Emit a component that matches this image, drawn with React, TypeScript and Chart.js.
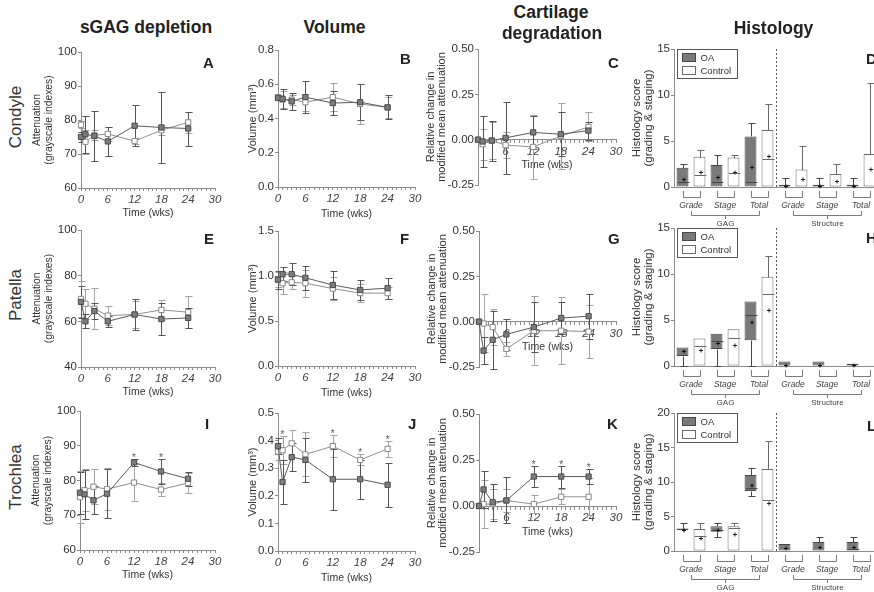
import React, { useEffect, useRef } from "react";
import { Chart, registerables } from "chart.js";

Chart.register(...registerables);

const FONT = "'Liberation Sans', Arial, Helvetica, sans-serif";
const AXIS = "#8c8c8c";
const TEXT = "#333333";
const OA_LINE = "#5a5a5a";
const OA_FILL = "#7d7d7d";
const OA_EDGE = "#4a4a4a";
const CTRL_LINE = "#8f8f8f";
const CTRL_EDGE = "#888888";
const OA_ERR = "#555555";
const CTRL_ERR = "#a3a3a3";
const OA_BAR = "#7a7a7a";
const OA_BAR_EDGE = "#474747";
const CTRL_BAR_EDGE = "#6a6a6a";

// ---------------- data ----------------
const weeks = [0, 1, 3, 6, 12, 18, 24];

// Condyle
const condyleSgagOA = [75.0, 75.8, 75.3, 73.7, 78.3, 77.8, 77.5];
const condyleSgagOASd = [1.5, 5.5, 7.3, 4.2, 6.0, 10.3, 5.0];
const condyleSgagCtrl = [78.6, 73.6, 75.5, 75.9, 73.8, 77.0, 79.3];
const condyleSgagCtrlSd = [1.0, 3.5, 1.5, 2.0, 1.0, 1.5, 3.2];

const condyleVolOA = [0.52, 0.515, 0.5, 0.525, 0.49, 0.495, 0.465];
const condyleVolOASd = [0.01, 0.06, 0.05, 0.095, 0.07, 0.105, 0.07];
const condyleVolCtrl = [0.525, 0.51, 0.51, 0.495, 0.525, 0.485, 0.465];
const condyleVolCtrlSd = [0.01, 0.05, 0.03, 0.05, 0.08, 0.115, 0.06];

const condyleDegOA = [0, -0.01, -0.005, 0.01, 0.04, 0.03, 0.05];
const condyleDegOASd = [0, 0.14, 0.11, 0.2, 0.09, 0.12, 0.05];
const condyleDegCtrl = [0, -0.025, -0.005, -0.03, -0.04, 0.02, 0.07];
const condyleDegCtrlSd = [0, 0.085, 0.1, 0.07, 0.175, 0.18, 0.08];

// Patella
const patellaSgagOA = [68.5, 60.0, 64.5, 60.0, 63.0, 61.0, 61.5];
const patellaSgagOASd = [7, 3, 3.5, 2.5, 7, 7, 4.5];
const patellaSgagCtrl = [69.8, 67.7, 65.5, 62.5, 63.0, 65.0, 64.0];
const patellaSgagCtrlSd = [8, 6.5, 9, 4, 6, 4.5, 7];

const patellaVolOA = [0.96, 1.02, 1.02, 0.98, 0.9, 0.845, 0.865];
const patellaVolOASd = [0.1, 0.08, 0.12, 0.13, 0.16, 0.11, 0.115];
const patellaVolCtrl = [0.96, 0.92, 0.93, 0.92, 0.86, 0.81, 0.81];
const patellaVolCtrlSd = [0.08, 0.12, 0.07, 0.15, 0.13, 0.1, 0.07];

const patellaDegOA = [0, -0.16, -0.1, -0.07, -0.03, 0.02, 0.03];
const patellaDegOASd = [0, 0.075, 0.16, 0.085, 0.14, 0.09, 0.125];
const patellaDegCtrl = [0, -0.01, -0.03, -0.15, -0.05, -0.05, -0.055];
const patellaDegCtrlSd = [0, 0.16, 0.1, 0.04, 0.19, 0.185, 0.145];

// Trochlea
const trochleaSgagOA = [76.5, 76.0, 74.3, 76.2, 85.2, 82.6, 80.5];
const trochleaSgagOASd = [6, 7, 4, 7, 1, 3.5, 2];
const trochleaSgagCtrl = [75.2, 77.2, 78.2, 77.5, 79.4, 77.4, 79.3];
const trochleaSgagCtrlSd = [7.5, 6, 5, 6, 5.3, 2, 3];
const trochleaSgagStars = [12, 18];

const trochleaVolOA = [0.38, 0.25, 0.34, 0.33, 0.26, 0.26, 0.24];
const trochleaVolOASd = [0.03, 0.08, 0.05, 0.08, 0.11, 0.07, 0.08];
const trochleaVolCtrl = [0.36, 0.365, 0.39, 0.35, 0.38, 0.33, 0.37];
const trochleaVolCtrlSd = [0.03, 0.05, 0.05, 0.08, 0.04, 0.02, 0.03];
const trochleaVolStars = [1, 12, 18, 24];

const trochleaDegOA = [0, 0.09, 0.02, 0.03, 0.16, 0.16, 0.16];
const trochleaDegOASd = [0, 0.1, 0.1, 0.125, 0.055, 0.06, 0.04];
const trochleaDegCtrl = [0, 0.01, 0.01, 0.03, 0.01, 0.05, 0.05];
const trochleaDegCtrlSd = [0, 0.13, 0.08, 0.06, 0.05, 0.04, 0.1];
const trochleaDegStars = [12, 18, 24];

// Histology: rows are [min, q1, median, q3, max, mean]
const histCategories = ["Grade", "Stage", "Total", "Grade", "Stage", "Total"];
const histGroups = ["GAG", "Structure"];

const condyleHistOA = [
  [0, 0, 0.5, 2.1, 2.5, 0.9],
  [0, 0, 0.5, 2.4, 3.5, 1.1],
  [0, 0, 0.55, 5.5, 7, 2.2],
  [0, 0, 0, 0.25, 1, 0.1],
  [0, 0, 0, 0.25, 1, 0.1],
  [0, 0, 0, 0.25, 1, 0.1],
];
const condyleHistCtrl = [
  [0, 0, 1.35, 3.3, 4, 1.6],
  [0, 0, 1.5, 3.2, 3.5, 1.6],
  [0, 0, 3, 6.2, 9, 3.4],
  [0, 0, 0, 1.9, 4.5, 0.9],
  [0, 0, 0, 1.4, 2.5, 0.6],
  [0, 0, 0, 3.6, 11.3, 2.0],
];
const patellaHistOA = [
  [0, 1.1, 1.1, 2, 2, 1.6],
  [0, 1.85, 2.75, 3.5, 3.5, 2.5],
  [0, 2.8, 5.5, 7, 7, 4.8],
  [0, 0, 0, 0.5, 0.5, 0.15],
  [0, 0, 0, 0.5, 0.5, 0.15],
  [0, 0, 0, 0.25, 0.25, 0.07],
];
const patellaHistCtrl = [
  [0, 0, 2.2, 3, 3, 1.75],
  [0, 0, 3, 4, 4, 2.3],
  [0, 0, 7.8, 9.7, 12, 6.1],
  [0, 0, 0, 0, 0, 0],
  [0, 0, 0, 0, 0, 0],
  [0, 0, 0, 0, 0, 0],
];
const trochleaHistOA = [
  [3, 3, 3, 3.25, 4, 3.1],
  [2, 2.8, 3, 3.6, 4, 3.1],
  [8, 8.7, 9.1, 11, 12, 9.6],
  [0, 0, 0, 1, 1, 0.4],
  [0, 0, 0, 1.3, 2, 0.6],
  [0, 0, 0.3, 1.3, 2, 0.6],
];
const trochleaHistCtrl = [
  [0, 0, 2.2, 3.2, 4, 1.9],
  [0, 0, 3.4, 3.6, 4, 2.4],
  [0, 0, 7.4, 11.9, 16, 6.9],
  [0, 0, 0, 0, 0, 0],
  [0, 0, 0, 0, 0, 0],
  [0, 0, 0, 0, 0, 0],
];

// ---------------- panel specs (layout) ----------------
type LineSpec = {
  area: number[];
  yMin: number; yMax: number; yStep: number; yDec: number;
  yW: number; yTitle: string | string[]; yTitleSize: number; yTitleLH: number;
  cross: boolean; xH: number;
  oa: number[]; oaSd: number[]; ctrl: number[]; ctrlSd: number[]; stars: number[];
};

const SGAG_TITLE = ["Attenuation", "(grayscale indexes)"];
const VOL_TITLE = "Volume (mm\u00b3)";
const DEG_TITLE = ["Relative change in", "modified mean attenuation"];

const sg = (area: number[], yMin: number, yStep: number, oa: number[], oaSd: number[], ctrl: number[], ctrlSd: number[], stars: number[]): LineSpec => ({
  area, yMin, yMax: 100, yStep, yDec: 0, yW: 52, yTitle: SGAG_TITLE, yTitleSize: 10.3, yTitleLH: 1.17,
  cross: false, xH: 31, oa, oaSd, ctrl, ctrlSd, stars,
});
const vo = (area: number[], yMax: number, yStep: number, oa: number[], oaSd: number[], ctrl: number[], ctrlSd: number[], stars: number[]): LineSpec => ({
  area, yMin: 0, yMax, yStep, yDec: 1, yW: 34, yTitle: VOL_TITLE, yTitleSize: 11, yTitleLH: 1.2,
  cross: false, xH: 33, oa, oaSd, ctrl, ctrlSd, stars,
});
const de = (area: number[], oa: number[], oaSd: number[], ctrl: number[], ctrlSd: number[], stars: number[]): LineSpec => ({
  area, yMin: -0.25, yMax: 0.5, yStep: 0.25, yDec: 2, yW: 55, yTitle: DEG_TITLE, yTitleSize: 11, yTitleLH: 1.05,
  cross: true, xH: 32, oa, oaSd, ctrl, ctrlSd, stars,
});

const linePanels: LineSpec[] = [
  sg([81, 52, 215, 188], 60, 10, condyleSgagOA, condyleSgagOASd, condyleSgagCtrl, condyleSgagCtrlSd, []),
  vo([278, 50, 415, 187], 0.8, 0.2, condyleVolOA, condyleVolOASd, condyleVolCtrl, condyleVolCtrlSd, []),
  de([478, 49, 616, 185], condyleDegOA, condyleDegOASd, condyleDegCtrl, condyleDegCtrlSd, []),
  sg([81, 230, 215, 367], 40, 20, patellaSgagOA, patellaSgagOASd, patellaSgagCtrl, patellaSgagCtrlSd, []),
  vo([278, 231, 415, 366], 1.5, 0.5, patellaVolOA, patellaVolOASd, patellaVolCtrl, patellaVolCtrlSd, []),
  de([479, 231, 616, 367], patellaDegOA, patellaDegOASd, patellaDegCtrl, patellaDegCtrlSd, []),
  sg([80, 411, 215, 550], 60, 10, trochleaSgagOA, trochleaSgagOASd, trochleaSgagCtrl, trochleaSgagCtrlSd, trochleaSgagStars),
  vo([278, 413, 415, 551], 0.5, 0.1, trochleaVolOA, trochleaVolOASd, trochleaVolCtrl, trochleaVolCtrlSd, trochleaVolStars),
  de([479, 414, 616, 552], trochleaDegOA, trochleaDegOASd, trochleaDegCtrl, trochleaDegCtrlSd, trochleaDegStars),
];

type HistSpec = { area: number[]; yMax: number; oa: number[][]; ctrl: number[][] };
const histPanels: HistSpec[] = [
  { area: [674, 49, 878, 187], yMax: 15, oa: condyleHistOA, ctrl: condyleHistCtrl },
  { area: [674, 228, 878, 366], yMax: 15, oa: patellaHistOA, ctrl: patellaHistCtrl },
  { area: [674, 413, 878, 551], yMax: 20, oa: trochleaHistOA, ctrl: trochleaHistCtrl },
];

const PAD_TOP = 10;
const PAD_RIGHT = 12;
const PAD_BOTTOM_CROSS = 8;
const H_YW = 45;
const H_XH = 42;
const H_PAD_RIGHT = 4;

function lineBox(s: LineSpec) {
  const [l, t, r, b] = s.area;
  return {
    left: l - s.yW,
    top: t - PAD_TOP,
    width: r - l + s.yW + PAD_RIGHT,
    height: b - t + PAD_TOP + (s.cross ? PAD_BOTTOM_CROSS : s.xH),
  };
}
function histBox(h: HistSpec) {
  const [l, t, r, b] = h.area;
  return { left: l - H_YW, top: t - PAD_TOP, width: r - l + H_YW + H_PAD_RIGHT, height: b - t + PAD_TOP + H_XH };
}

// ---------------- chart builders ----------------
function buildLine(canvas: HTMLCanvasElement, s: LineSpec) {
  const extras = {
    id: "errorBarsAndStars",
    beforeDatasetsDraw(chart: any) {
      const ctx = chart.ctx;
      const ys = chart.scales.y;
      const sets = [
        { vals: s.ctrl, sd: s.ctrlSd, di: 1, color: CTRL_ERR },
        { vals: s.oa, sd: s.oaSd, di: 0, color: OA_ERR },
      ];
      for (const st of sets) {
        const meta = chart.getDatasetMeta(st.di);
        ctx.save();
        ctx.strokeStyle = st.color;
        ctx.lineWidth = 1;
        meta.data.forEach((pt: any, i: number) => {
          const e = st.sd[i];
          if (!e) return;
          const x = Math.round(pt.x) + 0.5;
          const y1 = Math.round(ys.getPixelForValue(st.vals[i] + e)) + 0.5;
          const y2 = Math.round(ys.getPixelForValue(st.vals[i] - e)) + 0.5;
          ctx.beginPath();
          ctx.moveTo(x, y1);
          ctx.lineTo(x, y2);
          ctx.moveTo(x - 3, y1);
          ctx.lineTo(x + 4, y1);
          ctx.moveTo(x - 3, y2);
          ctx.lineTo(x + 4, y2);
          ctx.stroke();
        });
        ctx.restore();
      }
    },
    afterDatasetsDraw(chart: any) {
      if (!s.stars.length) return;
      const ctx = chart.ctx;
      const xs = chart.scales.x;
      const ys = chart.scales.y;
      ctx.save();
      ctx.fillStyle = "#555";
      ctx.font = `10px ${FONT}`;
      ctx.textAlign = "center";
      ctx.textBaseline = "alphabetic";
      for (const t of s.stars) {
        const i = weeks.indexOf(t);
        const top = Math.max(s.oa[i] + s.oaSd[i], s.ctrl[i] + s.ctrlSd[i]);
        ctx.fillText("*", xs.getPixelForValue(t), ys.getPixelForValue(top) + 2);
      }
      ctx.restore();
    },
  };

  const cfg: any = {
    type: "line",
    data: {
      datasets: [
        {
          label: "OA",
          data: weeks.map((w, i) => ({ x: w, y: s.oa[i] })),
          borderColor: OA_LINE,
          borderWidth: 1,
          pointStyle: "rect",
          pointRadius: 3.7,
          pointBackgroundColor: OA_FILL,
          pointBorderColor: OA_EDGE,
          pointBorderWidth: 1,
          tension: 0,
          clip: false,
        },
        {
          label: "Control",
          data: weeks.map((w, i) => ({ x: w, y: s.ctrl[i] })),
          borderColor: CTRL_LINE,
          borderWidth: 1,
          pointStyle: "rect",
          pointRadius: 3.7,
          pointBackgroundColor: "#ffffff",
          pointBorderColor: CTRL_EDGE,
          pointBorderWidth: 1,
          tension: 0,
          clip: false,
        },
      ],
    },
    options: {
      responsive: false,
      animation: false,
      events: [],
      layout: { padding: { top: PAD_TOP, right: PAD_RIGHT, left: 0, bottom: s.cross ? PAD_BOTTOM_CROSS : 0 } },
      plugins: { legend: { display: false }, tooltip: { enabled: false } },
      scales: {
        x: {
          type: "linear",
          min: 0,
          max: 30,
          position: s.cross ? { y: 0 } : "bottom",
          afterFit: (sc: any) => { sc.height = s.xH; },
          grid: { display: true, drawOnChartArea: false, drawTicks: true, tickLength: 3, color: AXIS, tickColor: AXIS },
          border: { display: true, color: AXIS, width: 1 },
          ticks: {
            stepSize: 1,
            autoSkip: false,
            maxRotation: 0,
            minRotation: 0,
            padding: 2,
            color: "#444",
            font: { family: FONT, size: 11.5, style: "italic" },
            callback: (v: number) => (v % 6 === 0 && !(s.cross && v === 0) ? String(v) : ""),
          },
          title: { display: true, text: "Time (wks)", color: TEXT, font: { family: FONT, size: 10.5 }, padding: 0 },
        },
        y: {
          type: "linear",
          min: s.yMin,
          max: s.yMax,
          afterFit: (sc: any) => { sc.width = s.yW; },
          grid: { display: true, drawOnChartArea: false, drawTicks: true, tickLength: 3, color: AXIS, tickColor: AXIS },
          border: { display: true, color: AXIS, width: 1 },
          ticks: {
            stepSize: s.yStep,
            padding: 1,
            color: TEXT,
            font: { family: FONT, size: 11.5 },
            callback: (v: number) => Number(v).toFixed(s.yDec),
          },
          title: {
            display: true,
            text: s.yTitle,
            color: TEXT,
            font: { family: FONT, size: s.yTitleSize, lineHeight: s.yTitleLH },
            padding: { top: 2, bottom: 0 },
          },
        },
      },
    },
    plugins: [extras],
  };
  return new Chart(canvas, cfg);
}

function buildHist(canvas: HTMLCanvasElement, h: HistSpec) {
  const extras = {
    id: "boxDetails",
    afterDatasetsDraw(chart: any) {
      const ctx = chart.ctx;
      const ys = chart.scales.y;
      const xs = chart.scales.x;
      const area = chart.chartArea;
      const py = (v: number) => Math.round(ys.getPixelForValue(v)) + 0.5;
      const sets = [
        { rows: h.oa, di: 0, edge: OA_BAR_EDGE, plus: "#111" },
        { rows: h.ctrl, di: 1, edge: CTRL_BAR_EDGE, plus: "#222" },
      ];
      ctx.save();
      for (const st of sets) {
        const meta = chart.getDatasetMeta(st.di);
        meta.data.forEach((bar: any, i: number) => {
          const [mn, q1, md, q3, mx, mean] = st.rows[i];
          const x = Math.round(bar.x) + 0.5;
          const hw = bar.width / 2;
          ctx.strokeStyle = st.edge;
          ctx.lineWidth = 1;
          ctx.beginPath();
          if (mx > q3) {
            ctx.moveTo(x, py(q3));
            ctx.lineTo(x, py(mx));
            ctx.moveTo(x - 3, py(mx));
            ctx.lineTo(x + 4, py(mx));
          }
          if (mn < q1) {
            ctx.moveTo(x, py(q1));
            ctx.lineTo(x, py(mn));
            ctx.moveTo(x - 3, py(mn));
            ctx.lineTo(x + 4, py(mn));
          }
          if (md > q1 && md < q3) {
            ctx.moveTo(x - hw, py(md));
            ctx.lineTo(x + hw, py(md));
          }
          ctx.stroke();
          if (q3 > 0) {
            const my = py(mean);
            ctx.strokeStyle = st.plus;
            ctx.beginPath();
            ctx.moveTo(x - 1.5, my);
            ctx.lineTo(x + 2.5, my);
            ctx.moveTo(x + 0.5, my - 2);
            ctx.lineTo(x + 0.5, my + 2);
            ctx.stroke();
          }
        });
      }

      // dashed separator between GAG and Structure
      const sep = Math.round((xs.getPixelForValue(2) + xs.getPixelForValue(3)) / 2) + 0.5;
      ctx.strokeStyle = "#555";
      ctx.setLineDash([2, 2]);
      ctx.beginPath();
      ctx.moveTo(sep, area.top);
      ctx.lineTo(sep, area.bottom);
      ctx.stroke();
      ctx.setLineDash([]);

      // category brackets and labels
      const ax = area.bottom;
      const m0 = chart.getDatasetMeta(0);
      const m1 = chart.getDatasetMeta(1);
      ctx.strokeStyle = "#7a7a7a";
      ctx.fillStyle = "#444";
      ctx.textAlign = "center";
      ctx.textBaseline = "middle";
      ctx.font = `italic 8.5px ${FONT}`;
      for (let i = 0; i < histCategories.length; i++) {
        const xa = Math.round(m0.data[i].x) + 0.5;
        const xb = Math.round(m1.data[i].x) + 0.5;
        ctx.beginPath();
        ctx.moveTo(xa, ax + 4);
        ctx.lineTo(xa, ax + 10.5);
        ctx.lineTo(xb, ax + 10.5);
        ctx.lineTo(xb, ax + 4);
        ctx.stroke();
        ctx.fillText(histCategories[i], xs.getPixelForValue(i), ax + 19);
      }
      ctx.font = `8px ${FONT}`;
      for (let g = 0; g < histGroups.length; g++) {
        const x0 = Math.round(xs.getPixelForValue(g * 3)) + 0.5;
        const x1 = Math.round(xs.getPixelForValue(g * 3 + 2)) + 0.5;
        const xm = Math.round(xs.getPixelForValue(g * 3 + 1)) + 0.5;
        ctx.beginPath();
        ctx.moveTo(x0, ax + 24);
        ctx.lineTo(x0, ax + 28.5);
        ctx.lineTo(x1, ax + 28.5);
        ctx.lineTo(x1, ax + 24);
        ctx.moveTo(xm, ax + 28.5);
        ctx.lineTo(xm, ax + 32);
        ctx.stroke();
        ctx.fillText(histGroups[g], xm, ax + 37);
      }

      // legend
      const lx = Math.round(area.left) + 3.5;
      const ly = Math.round(area.top) + 0.5;
      ctx.fillStyle = "#ffffff";
      ctx.fillRect(lx, ly, 60, 29);
      ctx.strokeStyle = "#555";
      ctx.strokeRect(lx, ly, 60, 29);
      const items = [
        { label: "OA", fill: OA_BAR, edge: OA_BAR_EDGE, dy: 8 },
        { label: "Control", fill: "#ffffff", edge: CTRL_BAR_EDGE, dy: 21 },
      ];
      ctx.font = `9.5px ${FONT}`;
      ctx.textAlign = "left";
      for (const it of items) {
        ctx.fillStyle = it.fill;
        ctx.fillRect(lx + 5, ly + it.dy - 4, 13, 8);
        ctx.strokeStyle = it.edge;
        ctx.strokeRect(lx + 5, ly + it.dy - 4, 13, 8);
        ctx.fillStyle = TEXT;
        ctx.fillText(it.label, lx + 23, ly + it.dy + 0.5);
      }
      ctx.restore();
    },
  };

  const cfg: any = {
    type: "bar",
    data: {
      labels: histCategories,
      datasets: [
        {
          label: "OA",
          data: h.oa.map((r) => [r[1], r[3]]),
          backgroundColor: OA_BAR,
          borderColor: OA_BAR_EDGE,
          borderWidth: 1,
          borderSkipped: false,
          barPercentage: 0.7,
          categoryPercentage: 1,
        },
        {
          label: "Control",
          data: h.ctrl.map((r) => [r[1], r[3]]),
          backgroundColor: "#ffffff",
          borderColor: CTRL_BAR_EDGE,
          borderWidth: 1,
          borderSkipped: false,
          barPercentage: 0.7,
          categoryPercentage: 1,
        },
      ],
    },
    options: {
      responsive: false,
      animation: false,
      events: [],
      layout: { padding: { top: PAD_TOP, right: H_PAD_RIGHT, left: 0, bottom: 0 } },
      plugins: { legend: { display: false }, tooltip: { enabled: false } },
      scales: {
        x: {
          type: "category",
          afterFit: (sc: any) => { sc.height = H_XH; },
          grid: { display: false },
          border: { display: true, color: AXIS, width: 1 },
          ticks: { display: false },
        },
        y: {
          type: "linear",
          min: 0,
          max: h.yMax,
          afterFit: (sc: any) => { sc.width = H_YW; },
          grid: { display: true, drawOnChartArea: false, drawTicks: true, tickLength: 3, color: AXIS, tickColor: AXIS },
          border: { display: true, color: AXIS, width: 1 },
          ticks: { stepSize: 5, padding: 1, color: TEXT, font: { family: FONT, size: 11.5 } },
          title: {
            display: true,
            text: ["Histology score", "(grading & staging)"],
            color: TEXT,
            font: { family: FONT, size: 11.5, lineHeight: 1.05 },
            padding: { top: 2, bottom: 0 },
          },
        },
      },
    },
    plugins: [extras],
  };
  return new Chart(canvas, cfg);
}

// ---------------- components ----------------
function ChartCanvas(props: { box: { left: number; top: number; width: number; height: number }; build: (c: HTMLCanvasElement) => Chart }) {
  const ref = useRef<HTMLCanvasElement>(null);
  const { box, build } = props;
  useEffect(() => {
    const chart = build(ref.current as HTMLCanvasElement);
    return () => chart.destroy();
  }, []);
  return (
    <canvas
      ref={ref}
      width={box.width}
      height={box.height}
      style={{ position: "absolute", left: box.left, top: box.top, width: box.width, height: box.height }}
    />
  );
}

const colTitles = [
  { text: "sGAG depletion", x: 146, y: 28 },
  { text: "Volume", x: 334.5, y: 28 },
  { text: "Cartilage", x: 551, y: 13 },
  { text: "degradation", x: 552, y: 34 },
  { text: "Histology", x: 773.5, y: 29 },
];
const rowTitles = [
  { text: "Condyle", x: 15, y: 117 },
  { text: "Patella", x: 15, y: 295 },
  { text: "Trochlea", x: 15, y: 477 },
];
const panelLetters = [
  { text: "A", x: 203, y: 62 },
  { text: "B", x: 400, y: 58 },
  { text: "C", x: 608, y: 62 },
  { text: "D", x: 866, y: 58 },
  { text: "E", x: 204, y: 238 },
  { text: "F", x: 400, y: 238 },
  { text: "G", x: 608, y: 238 },
  { text: "H", x: 866, y: 237 },
  { text: "I", x: 205, y: 423 },
  { text: "J", x: 408, y: 423 },
  { text: "K", x: 607, y: 423 },
  { text: "L", x: 867, y: 425 },
];

export default function App() {
  return (
    <div
      style={{
        position: "fixed",
        left: 0,
        top: 0,
        width: 874,
        height: 592,
        overflow: "hidden",
        background: "#ffffff",
        fontFamily: FONT,
        color: "#222",
      }}
    >
      {linePanels.map((s, i) => (
        <ChartCanvas key={"l" + i} box={lineBox(s)} build={(c) => buildLine(c, s)} />
      ))}
      {histPanels.map((h, i) => (
        <ChartCanvas key={"h" + i} box={histBox(h)} build={(c) => buildHist(c, h)} />
      ))}
      {colTitles.map((t, i) => (
        <div
          key={"c" + i}
          style={{
            position: "absolute",
            left: t.x,
            top: t.y,
            transform: "translate(-50%, -50%)",
            fontWeight: "bold",
            fontSize: 17.5,
            lineHeight: 1,
            whiteSpace: "nowrap",
          }}
        >
          {t.text}
        </div>
      ))}
      {rowTitles.map((t, i) => (
        <div
          key={"r" + i}
          style={{
            position: "absolute",
            left: t.x,
            top: t.y,
            transform: "translate(-50%, -50%) rotate(-90deg)",
            fontSize: 17,
            lineHeight: 1,
            whiteSpace: "nowrap",
            color: "#333",
          }}
        >
          {t.text}
        </div>
      ))}
      {panelLetters.map((t, i) => (
        <div
          key={"p" + i}
          style={{
            position: "absolute",
            left: t.x,
            top: t.y,
            transform: "translateY(-50%)",
            fontWeight: "bold",
            fontSize: 15,
            lineHeight: 1,
            whiteSpace: "nowrap",
          }}
        >
          {t.text}
        </div>
      ))}
    </div>
  );
}
